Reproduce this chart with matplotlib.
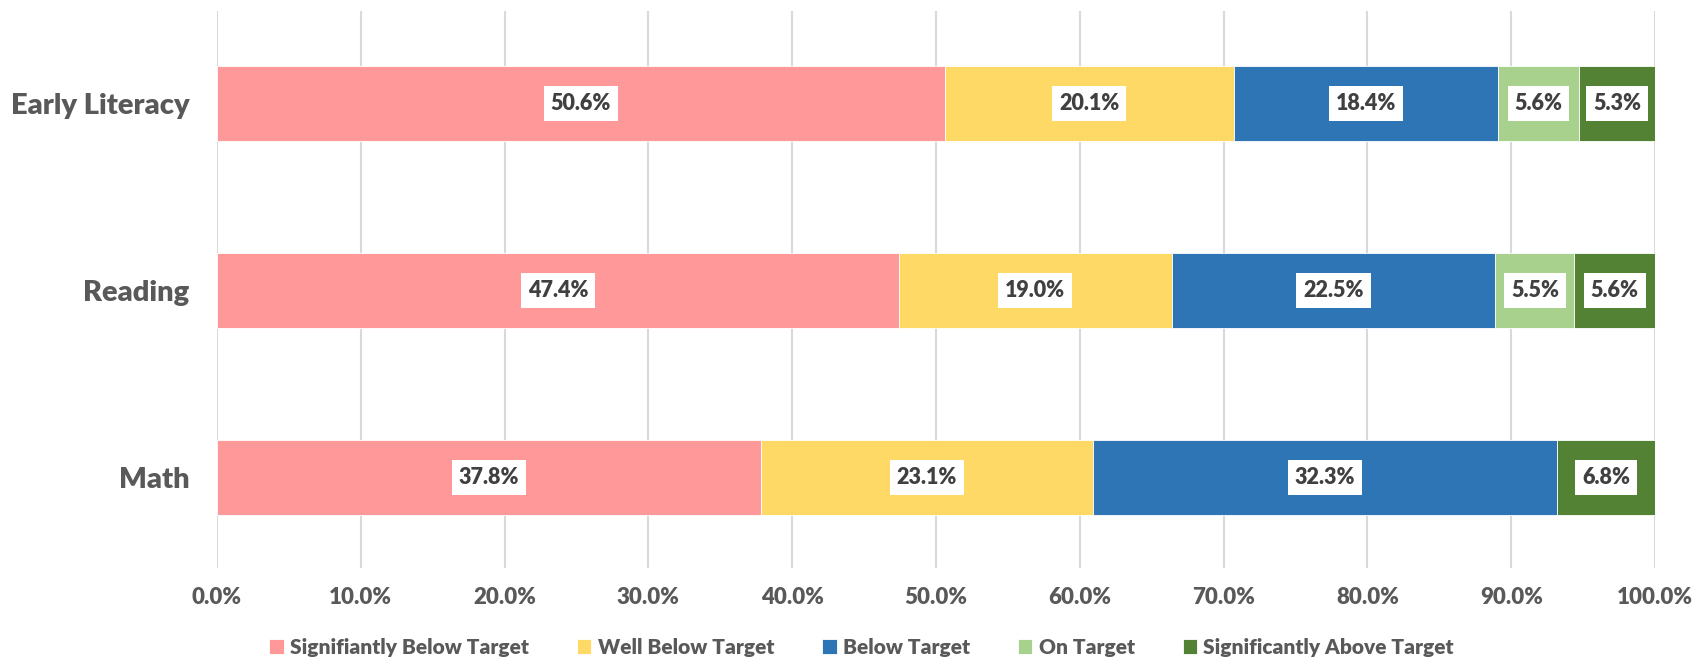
import matplotlib
matplotlib.use("Agg")
import matplotlib.pyplot as plt
import numpy as np

categories = ["Math", "Reading", "Early Literacy"]
series_names = ["Signifiantly Below Target", "Well Below Target", "Below Target",
                "On Target", "Significantly Above Target"]
sig_below = [37.8, 47.4, 50.6]
well_below = [23.1, 19.0, 20.1]
below = [32.3, 22.5, 18.4]
on_target = [0.0, 5.5, 5.6]
sig_above = [6.8, 5.6, 5.3]
series_values = [sig_below, well_below, below, on_target, sig_above]
colors = ["#FF9999", "#FFD966", "#2E75B6", "#A9D18E", "#548235"]
xticks = [0, 10, 20, 30, 40, 50, 60, 70, 80, 90, 100]

plt.rcParams['font.family'] = ['Lato', 'DejaVu Sans']
plt.rcParams['font.weight'] = 'bold'

fig = plt.figure(figsize=(16.96, 6.66), dpi=100)
ax = fig.add_axes([217/1696, 1 - 568/666, (1655-217)/1696, (568-11)/666])

y = np.arange(len(categories))
left = np.zeros(len(categories))
handles = []
for name, vals, c in zip(series_names, series_values, colors):
    vals = np.array(vals)
    h = ax.barh(y, vals, left=left, height=0.4, color=c, edgecolor='white', linewidth=0.6, label=name, zorder=3)
    handles.append(h)
    for yi, (l, v) in enumerate(zip(left, vals)):
        if v > 0:
            ax.text(l + v / 2, yi, f"{v:.1f}%", ha='center', va='center', fontsize=15.5,
                    color='#404040', fontweight='heavy', zorder=5,
                    bbox=dict(boxstyle='square,pad=0.32', fc='white', ec='none'))
    left = left + vals

ax.set_xlim(0, 100)
ax.set_ylim(-0.485, 2.495)
ax.set_xticks(xticks)
ax.set_xticklabels([f"{t:.1f}%" for t in xticks], fontsize=16, color='#595959', fontweight='heavy')
ax.set_yticks(y)
ax.set_yticklabels(categories, fontsize=21, color='#595959', fontweight='heavy')
ax.tick_params(axis='both', length=0)
ax.tick_params(axis='x', pad=14)
ax.tick_params(axis='y', pad=20)
ax.grid(axis='x', color='#D9D9D9', linewidth=1.5, zorder=0)
for s in ax.spines.values():
    s.set_visible(False)

leg = fig.legend(handles=handles, loc='lower center', ncol=5, frameon=False,
                 bbox_to_anchor=(0.508, -0.014), fontsize=15, handlelength=0.7, handleheight=0.7,
                 handletextpad=0.3, columnspacing=2.3)
for t in leg.get_texts():
    t.set_color('#595959')
    t.set_fontweight('heavy')

fig.savefig("out.png", dpi=100)
